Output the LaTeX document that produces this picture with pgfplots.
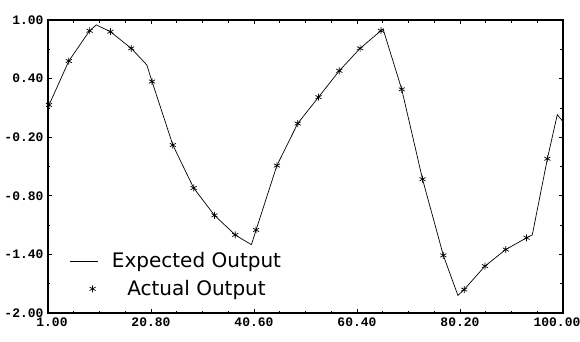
\documentclass[border=0pt]{standalone}
\usepackage{fontspec}
\usepackage{pgfplots}
\pgfplotsset{compat=1.18}
\newfontfamily\tickfont{Liberation Mono}
\newfontfamily\legfont{DejaVu Sans}
\begin{document}
\begin{tikzpicture}
\path[use as bounding box] (-48pt,-28pt) rectangle (532pt,313pt);
\begin{axis}[
  scale only axis,
  width=515pt, height=293pt,
  xmin=1, xmax=100, ymin=-2, ymax=1,
  xtick={1,20.8,40.6,60.4,80.2,100},
  xticklabels={{\hspace*{8pt}1.00},20.80,40.60,60.40,80.20,{\hspace*{-12pt}100.00}},
  ytick={-2,-1.4,-0.8,-0.2,0.4,1},
  yticklabels={-2.00,-1.40,-0.80,-0.20,0.40,1.00},
  minor x tick num=3, minor y tick num=1,
  major tick length=4pt, minor tick length=2.5pt,
  axis line style={line width=1.2pt},
  every tick/.style={black, line width=0.8pt},
  tick label style={font=\tickfont\bfseries\fontsize{13}{13}\selectfont},
  xticklabel style={yshift=-1pt},
  yticklabel style={xshift=-1pt},
  legend style={at={(rel axis cs:0.035,0.22)}, anchor=north west, draw=none, fill=none,
    font=\legfont\fontsize{20}{20}\selectfont, row sep=7pt},
  legend cell align=center,
]
\addplot[black, line width=0.7pt,
  legend image code/.code={\draw[black, line width=0.7pt] (0pt,0pt) -- (28pt,0pt); \path (40pt,0pt);}] coordinates {
(1,0.09) (1.2,0.13) (5,0.58) (9,0.89) (10.3,0.95) (13,0.88) (17,0.71) (20,0.54) (21,0.37)
(25,-0.28) (29,-0.72) (33,-1.00) (37,-1.20) (38.5,-1.25) (40.1,-1.30) (41,-1.15)
(45,-0.49) (49,-0.06) (53,0.21) (57,0.48) (61,0.71) (65,0.89) (65.4,0.91)
(69,0.29) (73,-0.63) (77,-1.41) (79.8,-1.82) (81,-1.76) (85,-1.52) (89,-1.35)
(93,-1.23) (94.1,-1.20) (97,-0.42) (98.9,0.03) (100,-0.04)
};
\addlegendentry{Expected Output}
\addplot[only marks, mark=asterisk, mark size=3.5pt, black, mark options={line width=0.7pt},
  legend image code/.code={\draw[black, mark=asterisk, mark size=3.5pt, line width=0.7pt] plot coordinates {(23pt,0pt)}; \path (0pt,0pt) (40pt,0pt);}] coordinates {
(1.2,0.13) (5,0.58) (9,0.89) (13,0.88) (17,0.71) (21,0.37) (25,-0.28) (29,-0.72)
(33,-1.00) (37,-1.20) (41,-1.15) (45,-0.49) (49,-0.06) (53,0.21) (57,0.48) (61,0.71)
(65,0.89) (69,0.29) (73,-0.63) (77,-1.41) (81,-1.76) (85,-1.52) (89,-1.35) (93,-1.23)
(97,-0.42)
};
\addlegendentry{Actual Output}
\end{axis}
\end{tikzpicture}
\end{document}
